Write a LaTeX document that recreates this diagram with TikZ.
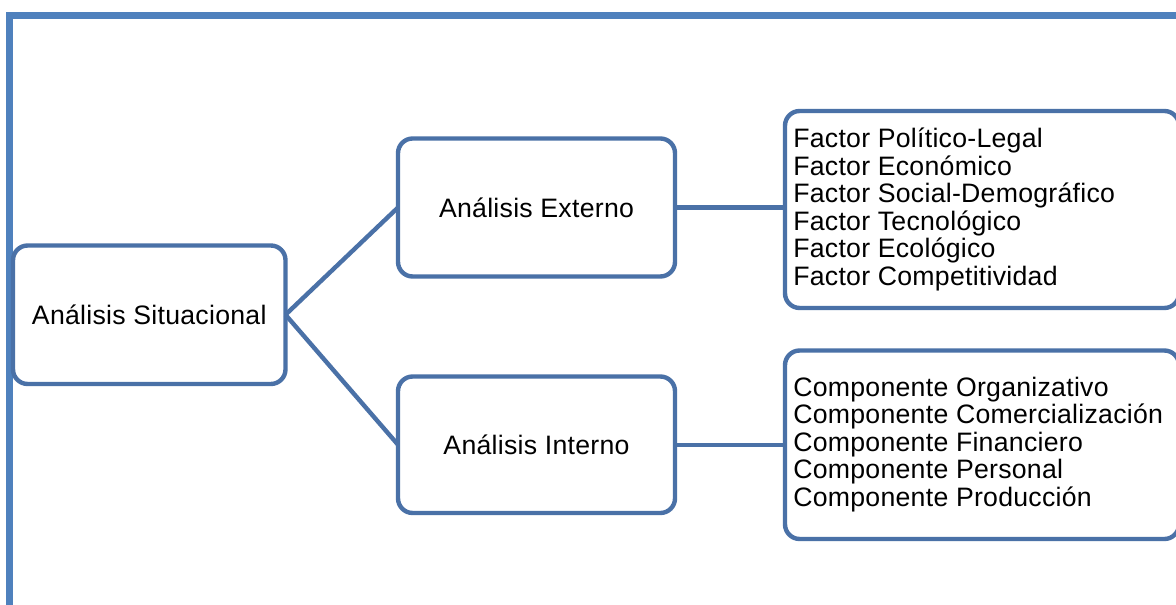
\documentclass[tikz,border=0pt]{standalone}
\usepackage{fontspec}
\setmainfont{Liberation Sans}[LetterSpace=1]
\definecolor{framecol}{HTML}{4F81BD}
\definecolor{boxcol}{HTML}{4A71A7}
\begin{document}
\begin{tikzpicture}[x=0.75pt,y=-0.75pt,
  boxline/.style={draw=boxcol,line width=3.3pt,rounded corners=11pt},
  link/.style={draw=boxcol,line width=3.3pt},
  label/.style={font=\fontsize{20}{20.6}\selectfont,inner sep=0pt,align=left}]
\useasboundingbox (0,0) rectangle (1176,605);
\clip (0,0) rectangle (1176,605);
\fill[white] (0,0) rectangle (1176,605);
% outer frame, open to the right and below
\draw[framecol,line width=5.2pt,line join=miter] (9.5,700) -- (9.5,15.5) -- (1300,15.5);
% boxes
\draw[boxline] (13,245.5) rectangle (285.5,384);
\draw[boxline] (398,138.5) rectangle (675,276.5);
\draw[boxline] (398,376.5) rectangle (675,513);
\draw[boxline] (785,111) rectangle (1179,308);
\draw[boxline] (785,350.5) rectangle (1179,539);
% anchor points on the box edges
\coordinate (sitR) at (285.5,314.75);
\coordinate (extL) at (398,207.5);
\coordinate (extR) at (675,207.5);
\coordinate (intL) at (398,444.75);
\coordinate (intR) at (675,444.75);
\coordinate (facL) at (785,207.5);
\coordinate (comL) at (785,444.75);
% texts
\node[label] (sit) at (149.25,314.75) {Análisis Situacional};
\node[label] (ext) at (536.5,207.5) {Análisis Externo};
\node[label] (int) at (536.5,444.75) {Análisis Interno};
\node[label,anchor=west] (fac) at (793,209.5) {Factor Político-Legal\\Factor Económico\\Factor Social-Demográfico\\Factor Tecnológico\\Factor Ecológico\\Factor Competitividad};
\node[label,anchor=west] (com) at (793,444.5) {Componente Organizativo\\Componente Comercialización\\Componente Financiero\\Componente Personal\\Componente Producción};
% connectors
\draw[link] (sitR) -- (extL);
\draw[link] (sitR) -- (intL);
\draw[link] (extR) -- (facL);
\draw[link] (intR) -- (comL);
\end{tikzpicture}
\end{document}
